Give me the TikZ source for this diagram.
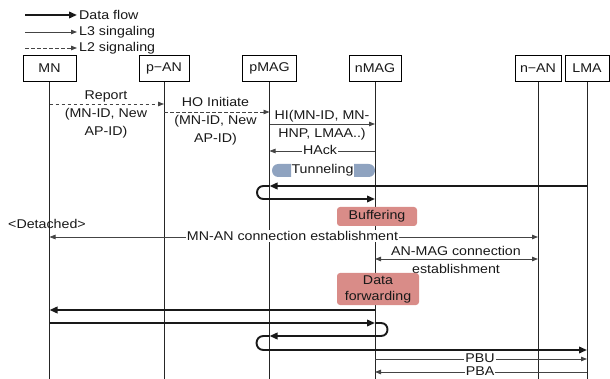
\documentclass[tikz,border=0pt]{standalone}
\usepackage{fontspec}
\setmainfont{Liberation Sans}[FakeStretch=1.12]
\usetikzlibrary{arrows.meta}
\definecolor{bufc}{HTML}{D98C88}
\definecolor{tunc}{HTML}{8FA3C0}
\definecolor{sig}{HTML}{444444}
\begin{document}
\begin{tikzpicture}[x=1pt,y=-1pt,
  every node/.style={font=\fontsize{12.7}{18}\selectfont, inner sep=0pt, text=black!90},
  ent/.style={draw=black, line width=0.9pt, minimum height=26pt, inner sep=0pt, fill=white},
  life/.style={line width=0.9pt, draw=black!85},
  data/.style={line width=1.9pt, draw=black!90, -{Triangle[length=8pt,width=6.5pt]}},
  lthree/.style={line width=0.8pt, draw=sig, -{Triangle[length=6pt,width=4.5pt]}},
  lthreeboth/.style={line width=0.8pt, draw=sig, {Triangle[length=6pt,width=4.5pt]}-{Triangle[length=6pt,width=4.5pt]}},
  ltwo/.style={line width=0.8pt, draw=sig, dash pattern=on 3.5pt off 2.5pt, -{Triangle[length=6pt,width=4.5pt]}},
  onlabel/.style={fill=white, inner xsep=1pt, inner ysep=1.5pt},
  msglabel/.style={align=center},
  procbox/.style={fill=bufc, rounded corners=3pt, align=center},
  tuncap/.style={fill=tunc},
]
\useasboundingbox (0,0) rectangle (610,379);

% legend
\coordinate (lg1a) at (25,15); \coordinate (lg1b) at (77,15);
\coordinate (lg2a) at (25,32); \coordinate (lg2b) at (77,32);
\coordinate (lg3a) at (25,48); \coordinate (lg3b) at (77,48);
\draw[data] (lg1a) -- (lg1b);
\draw[lthree] (lg2a) -- (lg2b);
\draw[ltwo] (lg3a) -- (lg3b);
\node[anchor=base west] (lg1t) at (79,19.5) {Data flow};
\node[anchor=base west] (lg2t) at (79,36) {L3 singaling};
\node[anchor=base west] (lg3t) at (79,52) {L2 signaling};

% entities
\node[ent, minimum width=53pt] (MN)   at (49.5,68.5) {MN};
\node[ent, minimum width=50pt] (pAN)  at (164,68.5)  {p−AN};
\node[ent, minimum width=54pt] (pMAG) at (269.5,68.5) {pMAG};
\node[ent, minimum width=52pt] (nMAG) at (375,68.5)  {nMAG};
\node[ent, minimum width=46pt] (nAN)  at (538,68.5)  {n−AN};
\node[ent, minimum width=44pt] (LMA)  at (587,68.5)  {LMA};

\coordinate (MNe)   at (49.5,380);
\coordinate (pANe)  at (164,380);
\coordinate (pMAGe) at (269.5,380);
\coordinate (nMAGe) at (375,380);
\coordinate (nANe)  at (538,380);
\coordinate (LMAe)  at (587,380);
\draw[life] (MN.south) -- (MNe);
\draw[life] (pAN.south) -- (pANe);
\draw[life] (pMAG.south) -- (pMAGe);
\draw[life] (nMAG.south) -- (nMAGe);
\draw[life] (nAN.south) -- (nANe);
\draw[life] (LMA.south) -- (LMAe);

% L2 report and HO initiate
\draw[ltwo] (MN |- 0,104) -- (pAN |- 0,104);
\node[msglabel] (lrep) at (106,114) {Report\\(MN-ID, New\\AP-ID)};
\draw[ltwo] (pAN |- 0,112) -- (pMAG |- 0,112);
\node[msglabel] (lho) at (215.5,121) {HO Initiate\\(MN-ID, New\\AP-ID)};

% HI / HAck
\draw[lthree] (pMAG |- 0,124) -- (nMAG |- 0,124);
\node[msglabel] (lhi) at (322,125) {HI(MN-ID, MN-\\HNP, LMAA..)};
\draw[lthree] (nMAG |- 0,151) -- (pMAG |- 0,151);
\node[onlabel] (lhack) at (320,150) {HAck};

% Tunneling
\fill[tuncap] (291,164) -- (278.5,164) to[out=180,in=180,looseness=1.7] (278.5,177) -- (291,177) -- cycle;
\fill[tuncap] (354,164) -- (368.5,164) to[out=0,in=0,looseness=1.7] (368.5,177) -- (354,177) -- cycle;
\node (ltun) at (322.5,170.5) {Tunneling};

% data flow 1
\draw[data] (LMA |- 0,186) -- (pMAG |- 0,186);
\draw[data] (pMAG |- 0,186) -- ++(-6,0) to[out=180,in=180,looseness=1.7] ++(0,13) -- (nMAG |- 0,199);

% buffering
\node[procbox, minimum width=80pt, minimum height=19pt] (buf) at (377,216.5) {Buffering};

% detached / MN-AN
\node (det) at (47,224) {<Detached>};
\draw[lthreeboth] (MN |- 0,237) -- (nAN |- 0,237);
\node[onlabel] (lmnan) at (292.5,236) {MN-AN connection establishment};

% AN-MAG
\draw[lthreeboth] (nMAG |- 0,259) -- (nAN |- 0,259);
\node[msglabel] (lanmag) at (456,259.5) {AN-MAG connection\\establishment};

% data forwarding
\node[procbox, minimum width=82pt, minimum height=32pt, font=\fontsize{12.7}{16}\selectfont] (fwd) at (378,289) {Data\\forwarding};

% data flow 2
\draw[data] (nMAG |- 0,310) -- (MN |- 0,310);
\draw[data] (MN |- 0,323) -- (nMAG |- 0,323);
\draw[data] (nMAG |- 0,323) -- ++(6,0) to[out=0,in=0,looseness=1.7] ++(0,13) -- (pMAG |- 0,336);
\draw[data] (pMAG |- 0,336) -- ++(-6,0) to[out=180,in=180,looseness=1.7] ++(0,14) -- (LMA |- 0,350);

% PBU / PBA
\draw[lthree] (nMAG |- 0,359) -- (LMA |- 0,359);
\node[onlabel] (lpbu) at (480,358) {PBU};
\draw[lthree] (LMA |- 0,372) -- (nMAG |- 0,372);
\node[onlabel] (lpba) at (480,371.5) {PBA};
\end{tikzpicture}
\end{document}
